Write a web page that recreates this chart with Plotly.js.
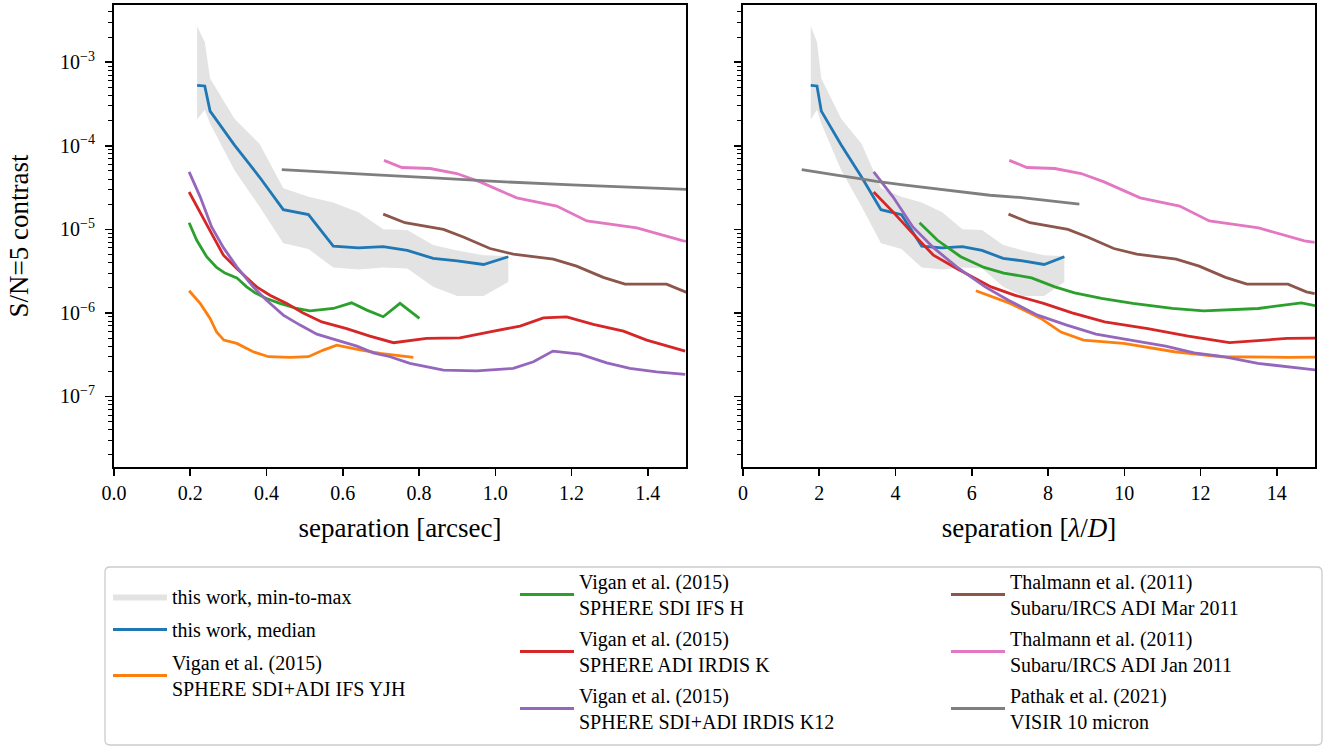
<!DOCTYPE html>
<html>
<head>
<meta charset="utf-8">
<script src="https://cdn.plot.ly/plotly-3.0.1.min.js"></script>
<style>
  html, body { margin: 0; padding: 0; background: #fff; }
  #chart { width: 1338px; height: 750px; }
</style>
</head>
<body>
<div id="chart"></div>
<script>
// ---- contrast curves: separation in arcsec, S/N=5 contrast ----

// this work (median and min-to-max envelope share one separation grid)
const sepThisWork = [0.218, 0.238, 0.252, 0.316, 0.382, 0.444, 0.510, 0.575, 0.641, 0.706, 0.769, 0.837, 0.900, 0.969, 1.034];
const medThisWork = [5.3e-4, 5.2e-4, 2.6e-4, 1.02e-4, 4.2e-5, 1.72e-5, 1.5e-5, 6.3e-6, 6.0e-6, 6.2e-6, 5.6e-6, 4.5e-6, 4.2e-6, 3.8e-6, 4.7e-6];
const maxThisWork = [2.7e-3, 1.75e-3, 6.4e-4, 2.1e-4, 1.05e-4, 3.1e-5, 2.45e-5, 2.1e-5, 1.6e-5, 1.0e-5, 9.8e-6, 6.5e-6, 5.6e-6, 4.9e-6, 4.8e-6];
const minThisWork = [2.07e-4, 2.7e-4, 1.85e-4, 5.1e-5, 1.86e-5, 6.8e-6, 5.8e-6, 3.5e-6, 3.3e-6, 3.5e-6, 3.4e-6, 2.05e-6, 1.59e-6, 1.59e-6, 2.35e-6];

// Vigan et al. (2015), SPHERE SDI+ADI IFS YJH
const sepYJH = [0.197, 0.226, 0.252, 0.269, 0.288, 0.322, 0.365, 0.405, 0.462, 0.510, 0.549, 0.584, 0.645, 0.698, 0.785];
const conYJH = [1.84e-6, 1.3e-6, 8.6e-7, 5.9e-7, 4.73e-7, 4.32e-7, 3.43e-7, 2.99e-7, 2.94e-7, 2.99e-7, 3.59e-7, 4.12e-7, 3.6e-7, 3.28e-7, 2.94e-7];

// Vigan et al. (2015), SPHERE SDI IFS H
const sepIFSH = [0.197, 0.217, 0.243, 0.269, 0.291, 0.322, 0.348, 0.370, 0.400, 0.435, 0.479, 0.514, 0.575, 0.623, 0.663, 0.706, 0.750, 0.801];
const conIFSH = [1.2e-5, 7.4e-6, 4.7e-6, 3.5e-6, 3.0e-6, 2.63e-6, 2.05e-6, 1.74e-6, 1.49e-6, 1.3e-6, 1.13e-6, 1.06e-6, 1.13e-6, 1.32e-6, 1.08e-6, 9.0e-7, 1.3e-6, 8.6e-7];

// Vigan et al. (2015), SPHERE ADI IRDIS K
const sepIRDK = [0.197, 0.226, 0.256, 0.287, 0.322, 0.374, 0.409, 0.453, 0.496, 0.545, 0.610, 0.671, 0.733, 0.820, 0.907, 0.986, 1.065, 1.126, 1.187, 1.257, 1.336, 1.397, 1.441, 1.498];
const conIRDK = [2.8e-5, 1.62e-5, 8.9e-6, 4.9e-6, 3.4e-6, 2.05e-6, 1.63e-6, 1.3e-6, 1.0e-6, 7.8e-7, 6.5e-7, 5.28e-7, 4.4e-7, 4.95e-7, 5.04e-7, 5.95e-7, 6.95e-7, 8.7e-7, 8.97e-7, 7.3e-7, 6.05e-7, 4.73e-7, 4.12e-7, 3.49e-7];

// Vigan et al. (2015), SPHERE SDI+ADI IRDIS K12
const sepK12 = [0.197, 0.226, 0.256, 0.287, 0.322, 0.365, 0.400, 0.444, 0.488, 0.532, 0.584, 0.637, 0.680, 0.724, 0.776, 0.864, 0.951, 1.047, 1.100, 1.151, 1.222, 1.292, 1.353, 1.423, 1.498];
const conK12 = [4.87e-5, 2.45e-5, 1.07e-5, 6.04e-6, 3.56e-6, 2.05e-6, 1.42e-6, 9.4e-7, 7.15e-7, 5.57e-7, 4.73e-7, 4.0e-7, 3.33e-7, 2.99e-7, 2.49e-7, 2.07e-7, 2.03e-7, 2.17e-7, 2.6e-7, 3.49e-7, 3.21e-7, 2.53e-7, 2.17e-7, 1.97e-7, 1.84e-7];

// Thalmann et al. (2011), Subaru/IRCS ADI Mar 2011
const sepMar = [0.706, 0.763, 0.864, 0.916, 0.986, 1.047, 1.152, 1.213, 1.283, 1.340, 1.449, 1.498, 1.52];
const conMar = [1.52e-5, 1.2e-5, 9.98e-6, 8.1e-6, 5.9e-6, 5.05e-6, 4.4e-6, 3.63e-6, 2.66e-6, 2.21e-6, 2.21e-6, 1.79e-6, 1.7e-6];

// Thalmann et al. (2011), Subaru/IRCS ADI Jan 2011
const sepJan = [0.708, 0.755, 0.829, 0.899, 0.960, 1.056, 1.161, 1.240, 1.371, 1.441, 1.493, 1.52];
const conJan = [6.7e-5, 5.5e-5, 5.35e-5, 4.66e-5, 3.7e-5, 2.38e-5, 1.9e-5, 1.26e-5, 1.04e-5, 8.5e-6, 7.3e-6, 7.0e-6];

// Pathak et al. (2021), VISIR 10 micron
const sepVISIR = [0.44, 0.55, 0.70, 0.85, 1.00, 1.20, 1.50, 1.85, 2.07, 2.30, 2.52];
const conVISIR = [5.2e-5, 4.85e-5, 4.45e-5, 4.1e-5, 3.75e-5, 3.4e-5, 3.0e-5, 2.56e-5, 2.41e-5, 2.2e-5, 2.0e-5];

// size of one lambda/D in arcsec for each data set
const lodThisWork = 0.1227;
const lodYJH = 0.03226;
const lodIFSH = 0.04255;
const lodIRDIS = 0.05747;
const lodIRCS = 0.1014;
const lodVISIR = 0.2857;

// tick labels
const xTicksArcsec = [0, 0.2, 0.4, 0.6, 0.8, 1.0, 1.2, 1.4];
const xLabelsArcsec = ['0.0', '0.2', '0.4', '0.6', '0.8', '1.0', '1.2', '1.4'];
const xTicksLod = [0, 2, 4, 6, 8, 10, 12, 14];
const xLabelsLod = ['0', '2', '4', '6', '8', '10', '12', '14'];
const yTicks = [1e-7, 1e-6, 1e-5, 1e-4, 1e-3];
const yLabels = ['10<sup>−7</sup>', '10<sup>−6</sup>', '10<sup>−5</sup>', '10<sup>−4</sup>', '10<sup>−3</sup>'];

// ---- drawing ----
const FONT = "'Liberation Serif', 'Times New Roman', serif";
const C = {
  blue: '#1f77b4', orange: '#ff7f0e', green: '#2ca02c', red: '#d62728',
  purple: '#9467bd', brown: '#8c564b', pink: '#e377c2', gray: '#7f7f7f'
};
const LW = 2.8;

const toLod = (sep, lod) => sep.map(s => s / lod);

const series = [
  { name: 'this work, median', sep: sepThisWork, con: medThisWork, lod: lodThisWork, color: C.blue, legend: 'legend' },
  { name: 'Vigan et al. (2015)<br>SPHERE SDI+ADI IFS YJH', sep: sepYJH, con: conYJH, lod: lodYJH, color: C.orange, legend: 'legend' },
  { name: 'Vigan et al. (2015)<br>SPHERE SDI IFS H', sep: sepIFSH, con: conIFSH, lod: lodIFSH, color: C.green, legend: 'legend2' },
  { name: 'Vigan et al. (2015)<br>SPHERE ADI IRDIS K', sep: sepIRDK, con: conIRDK, lod: lodIRDIS, color: C.red, legend: 'legend2' },
  { name: 'Vigan et al. (2015)<br>SPHERE SDI+ADI IRDIS K12', sep: sepK12, con: conK12, lod: lodIRDIS, color: C.purple, legend: 'legend2' },
  { name: 'Thalmann et al. (2011)<br>Subaru/IRCS ADI Mar 2011', sep: sepMar, con: conMar, lod: lodIRCS, color: C.brown, legend: 'legend3' },
  { name: 'Thalmann et al. (2011)<br>Subaru/IRCS ADI Jan 2011', sep: sepJan, con: conJan, lod: lodIRCS, color: C.pink, legend: 'legend3' },
  { name: 'Pathak et al. (2021)<br>VISIR 10 micron', sep: sepVISIR, con: conVISIR, lod: lodVISIR, color: C.gray, legend: 'legend3' }
];

const traces = [];

// min-to-max envelope, both panels
function envelope(xs, showlegend, xa, ya) {
  return {
    x: xs.concat(xs.slice().reverse()),
    y: maxThisWork.concat(minThisWork.slice().reverse()),
    xaxis: xa, yaxis: ya,
    mode: 'lines', fill: 'toself',
    fillcolor: 'rgb(227,227,227)',
    line: { width: 0, color: 'rgba(0,0,0,0)' },
    name: 'this work, min-to-max',
    legend: 'legend', legendgroup: 'envelope',
    showlegend: showlegend,
    hoverinfo: 'skip'
  };
}
traces.push(envelope(sepThisWork, true, 'x', 'y'));
traces.push(envelope(toLod(sepThisWork, lodThisWork), false, 'x2', 'y2'));

series.forEach((s, i) => {
  traces.push({
    x: s.sep, y: s.con, xaxis: 'x', yaxis: 'y',
    mode: 'lines', line: { color: s.color, width: LW },
    name: s.name, legend: s.legend, legendgroup: 'g' + i, showlegend: true
  });
  traces.push({
    x: toLod(s.sep, s.lod), y: s.con, xaxis: 'x2', yaxis: 'y2',
    mode: 'lines', line: { color: s.color, width: LW },
    name: s.name, legendgroup: 'g' + i, showlegend: false
  });
});

// minor log ticks 2..9 x 10^n
const minorVals = [];
for (let e = -8; e <= -3; e++) {
  for (let k = 2; k <= 9; k++) minorVals.push(k * Math.pow(10, e));
}

const tickFont = { family: FONT, size: 20, color: '#000' };
const titleFont = { family: FONT, size: 27, color: '#000' };

const xCommon = {
  showline: true, mirror: true, linewidth: 2, linecolor: '#000',
  ticks: 'outside', ticklen: 7, tickwidth: 1.6, tickcolor: '#000',
  showgrid: false, zeroline: false, tickfont: tickFont, tickmode: 'array'
};
const yCommon = {
  type: 'log', range: [-7.844, -2.315],
  showline: true, mirror: true, linewidth: 2, linecolor: '#000',
  ticks: 'outside', ticklen: 7, tickwidth: 1.6, tickcolor: '#000',
  showgrid: false, zeroline: false, tickfont: tickFont,
  tickmode: 'array', tickvals: yTicks, ticktext: yLabels,
  minor: { tickmode: 'array', tickvals: minorVals, ticks: 'outside', ticklen: 4, tickwidth: 1, tickcolor: '#000', showgrid: false }
};

const W = 1338, H = 750;
const M = { l: 114, r: 23, t: 5, b: 283 };
const PW = W - M.l - M.r, PH = H - M.t - M.b;
const px = v => (v - M.l) / PW;           // horizontal pixel -> paper fraction
const py = v => (H - M.b - v) / PH;       // vertical pixel -> paper fraction

// rounded frame around the three legend columns
const bx0 = px(105), bx1 = px(1322), byTop = py(567), byBot = py(745);
const rx = 5 / PW, ry = 5 / PH;
const framePath = [
  `M${bx0 + rx},${byTop}`, `L${bx1 - rx},${byTop}`, `Q${bx1},${byTop} ${bx1},${byTop - ry}`,
  `L${bx1},${byBot + ry}`, `Q${bx1},${byBot} ${bx1 - rx},${byBot}`,
  `L${bx0 + rx},${byBot}`, `Q${bx0},${byBot} ${bx0},${byBot + ry}`,
  `L${bx0},${byTop - ry}`, `Q${bx0},${byTop} ${bx0 + rx},${byTop}`, 'Z'
].join(' ');

const legendCommon = {
  bgcolor: 'rgba(0,0,0,0)', borderwidth: 0,
  font: { family: FONT, size: 20, color: '#000' },
  xanchor: 'left', yanchor: 'top', orientation: 'v',
  itemwidth: 54, tracegroupgap: 2, valign: 'middle', traceorder: 'grouped'
};

const layout = {
  width: W, height: H, margin: M,
  paper_bgcolor: '#fff', plot_bgcolor: '#fff',
  font: { family: FONT, color: '#000' },
  xaxis: Object.assign({}, xCommon, {
    domain: [0, px(686)], range: [0, 1.5], anchor: 'y',
    tickvals: xTicksArcsec, ticktext: xLabelsArcsec,
    title: { text: 'separation [arcsec]', font: titleFont, standoff: 15 }
  }),
  yaxis: Object.assign({}, yCommon, {
    anchor: 'x', ticklabelstandoff: 6,
    title: { text: 'S/N=5 contrast', font: titleFont, standoff: 24 }
  }),
  xaxis2: Object.assign({}, xCommon, {
    domain: [px(743), 1], range: [0, 15], anchor: 'y2',
    tickvals: xTicksLod, ticktext: xLabelsLod,
    title: { text: 'separation [<i>λ</i>/<i>D</i>]', font: titleFont, standoff: 15 }
  }),
  yaxis2: Object.assign({}, yCommon, {
    anchor: 'x2', matches: 'y', showticklabels: false
  }),
  legend: Object.assign({}, legendCommon, { x: px(108), y: py(577), tracegroupgap: 4 }),
  legend2: Object.assign({}, legendCommon, { x: px(515), y: py(562) }),
  legend3: Object.assign({}, legendCommon, { x: px(946), y: py(562) }),
  shapes: [{
    type: 'path', xref: 'paper', yref: 'paper', path: framePath,
    line: { color: '#cccccc', width: 1.3 }, fillcolor: 'rgba(255,255,255,0.8)', layer: 'below'
  }],
  showlegend: true
};

Plotly.newPlot('chart', traces, layout, { displayModeBar: false, staticPlot: true });
</script>
</body>
</html>
